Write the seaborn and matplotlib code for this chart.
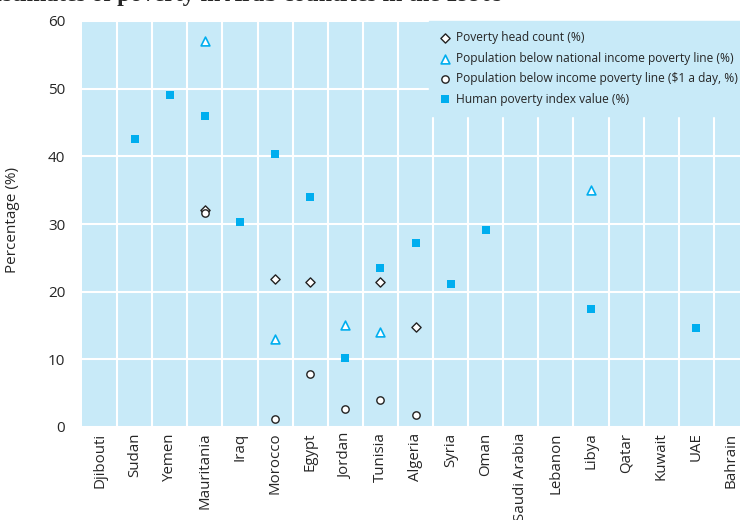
# Estimates of poverty in Arab countries in the 1990s
import numpy as np
import pandas as pd
import matplotlib
matplotlib.use("Agg")
import matplotlib.pyplot as plt
import seaborn as sns

# Data
countries = ["Djibouti", "Sudan", "Yemen", "Mauritania", "Iraq", "Morocco", "Egypt",
             "Jordan", "Tunisia", "Algeria", "Syria", "Oman", "Saudi Arabia", "Lebanon",
             "Libya", "Qatar", "Kuwait", "UAE", "Bahrain"]

head_count_countries = ["Mauritania", "Morocco", "Egypt", "Tunisia", "Algeria"]
head_count = [32.1, 21.9, 21.5, 21.4, 14.8]

national_line_countries = ["Mauritania", "Morocco", "Jordan", "Tunisia", "Libya"]
national_line = [57.0, 13.0, 15.1, 14.1, 35.0]

dollar_day_countries = ["Mauritania", "Morocco", "Egypt", "Jordan", "Tunisia", "Algeria"]
dollar_day = [31.6, 1.2, 7.8, 2.7, 4.0, 1.7]

hpi_countries = ["Sudan", "Yemen", "Mauritania", "Iraq", "Morocco", "Egypt", "Jordan",
                 "Tunisia", "Algeria", "Syria", "Oman", "Libya", "UAE"]
hpi = [42.5, 49.0, 45.9, 30.3, 40.3, 34.0, 10.2, 23.5, 27.2, 21.1, 29.1, 17.5, 14.6]

y_ticks = [0, 10, 20, 30, 40, 50, 60]

bg = "#C8EAF8"
cyan = "#00AEEF"

sns.set_style("white")
plt.rcParams["font.family"] = ["Open Sans", "DejaVu Sans"]

pos = {c: i for i, c in enumerate(countries)}

def frame(names, vals):
    return pd.DataFrame({"x": [pos[n] for n in names], "y": vals})

fig = plt.figure(figsize=(7.4, 5.2), dpi=100)
ax = fig.add_axes([82 / 740, 93 / 520, 667 / 740, 406 / 520])
ax.set_facecolor(bg)

sns.scatterplot(data=frame(head_count_countries, head_count), x="x", y="y", ax=ax,
                marker="D", s=22, facecolor="white", edgecolor="#222222", linewidth=1.0,
                label="Poverty head count (%)", zorder=3)
sns.scatterplot(data=frame(national_line_countries, national_line), x="x", y="y", ax=ax,
                marker="^", s=40, facecolor="white", edgecolor=cyan, linewidth=1.2,
                label="Population below national income poverty line (%)", zorder=3)
sns.scatterplot(data=frame(dollar_day_countries, dollar_day), x="x", y="y", ax=ax,
                marker="o", s=28, facecolor="white", edgecolor="#222222", linewidth=1.0,
                label="Population below income poverty line ($1 a day, %)", zorder=3)
sns.scatterplot(data=frame(hpi_countries, hpi), x="x", y="y", ax=ax,
                marker="s", s=30, color=cyan, edgecolor=cyan, linewidth=0,
                label="Human poverty index value (%)", zorder=3)

ax.set_xlim(-0.5, len(countries) - 0.5)
ax.set_ylim(0, 60)
ax.set_xticks(range(len(countries)))
ax.set_xticklabels(countries, rotation=90, fontsize=10.8)
ax.set_xticks(np.arange(0.5, len(countries) - 0.5, 1), minor=True)
ax.set_yticks(y_ticks)
ax.set_yticklabels([str(v) for v in y_ticks], fontsize=11)
ax.tick_params(axis="both", which="both", length=0)
ax.tick_params(axis="y", pad=12)
ax.tick_params(axis="x", pad=4)
ax.grid(True, which="minor", axis="x", color="white", linewidth=1.5)
ax.grid(True, which="major", axis="y", color="white", linewidth=1.5)
ax.set_axisbelow(True)
for s in ax.spines.values():
    s.set_visible(False)

ax.set_xlabel("")
ax.set_ylabel("Percentage (%)", fontsize=11)
ax.yaxis.set_label_coords(-0.093, 0.51)

leg = ax.legend(loc="upper left", bbox_to_anchor=(347 / 667, 1.0), frameon=True,
                facecolor=bg, edgecolor=bg, framealpha=1, fancybox=False,
                fontsize=8.65, labelspacing=0.62, handletextpad=0.4, handlelength=1.0,
                borderpad=0.85, borderaxespad=0)
leg.set_zorder(4)

fig.text(502 / 740, 0.998, "Estimates of poverty in Arab countries in the 1990s",
         ha="right", va="baseline", fontsize=17, fontweight="bold",
         family="Liberation Serif")

fig.savefig("out.png", dpi=100)
